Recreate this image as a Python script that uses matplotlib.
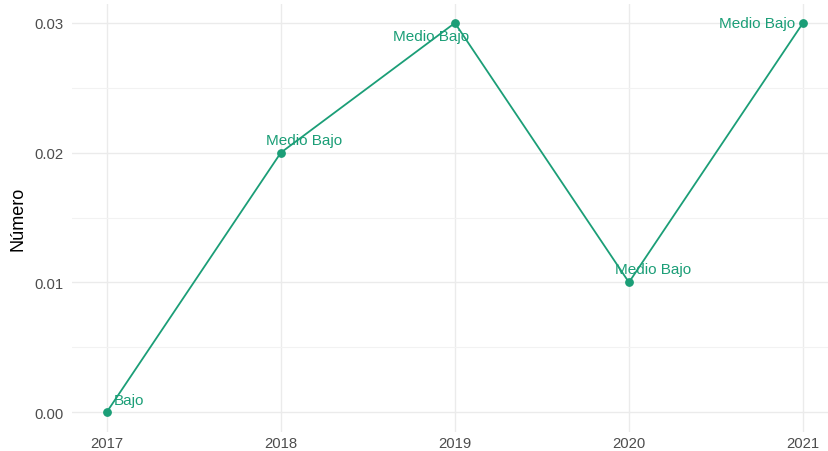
import matplotlib.pyplot as plt

years = [2017, 2018, 2019, 2020, 2021]
valores = [0.00, 0.02, 0.03, 0.01, 0.03]
etiquetas = ["Bajo", "Medio Bajo", "Medio Bajo", "Medio Bajo", "Medio Bajo"]

# label offsets in pixels (dx, dy) and horizontal alignment
offsets = [(7, 12, "left"), (-15, 13, "left"), (-24, -13, "center"),
           (24, 13, "center"), (-8, 0, "right")]

color = "#1b9e77"
plt.rcParams['font.family'] = ['Liberation Sans', 'DejaVu Sans']

fig = plt.figure(figsize=(8.29, 4.52), dpi=100)
ax = fig.add_axes([72 / 829, (452 - 432.5) / 452, (837.8 - 72) / 829, 428 / 452])

ax.set_xlim(2016.8, 2021.2)
ax.set_ylim(-0.0015, 0.0315)

ax.plot(years, valores, color=color, lw=1.3, zorder=3)
ax.scatter(years, valores, color=color, s=28, zorder=4)

for x, y, t, (dx, dy, ha) in zip(years, valores, etiquetas, offsets):
    ax.annotate(t, (x, y), xytext=(dx * 0.72, dy * 0.72), textcoords="offset points",
                ha=ha, va="center", color=color, fontsize=11)

ax.set_xticks(years)
ax.set_yticks([0, 0.01, 0.02, 0.03])
ax.set_yticklabels(["0.00", "0.01", "0.02", "0.03"])
ax.set_yticks([0.005, 0.015, 0.025], minor=True)
ax.grid(True, which="major", color="#ebebeb", lw=1.0)
ax.grid(True, which="minor", axis="y", color="#f2f2f2", lw=0.8)
ax.set_axisbelow(True)
for s in ax.spines.values():
    s.set_visible(False)
ax.tick_params(which="both", length=0, labelsize=10.7, colors="#4d4d4d")
ax.tick_params(axis="y", pad=6)
ax.tick_params(axis="x", pad=3.5)
ax.set_ylabel("Número", fontsize=13, color="black", labelpad=6)

fig.savefig("out.png", dpi=100)
